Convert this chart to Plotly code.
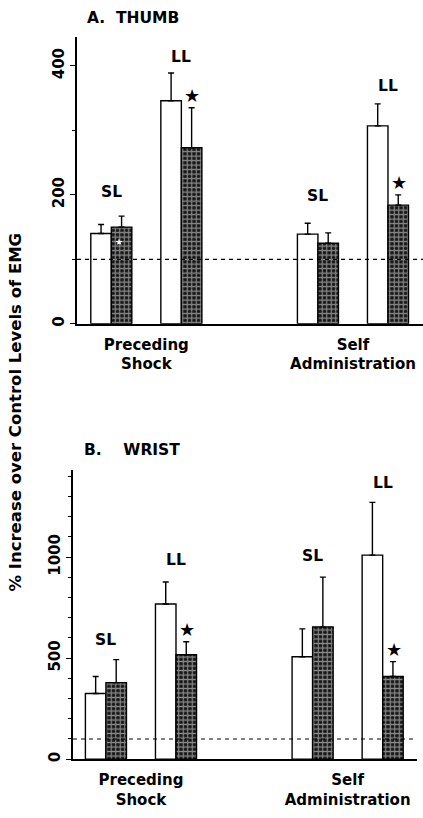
import plotly.graph_objects as go

# ---------------- data ----------------
conditions = ["Preceding<br>Shock", "Self<br>Administration"]
latency = ["SL", "LL", "SL", "LL"]           # groups (condition x latency)
group_pos = [0, 1, 2.95, 3.95]                # group positions on the x axis

thumb_open = [140, 346, 139, 307]
thumb_open_err = [14, 43, 17, 34]
thumb_hatch = [150, 273, 125, 184]
thumb_hatch_err = [17, 62, 16, 16]

wrist_open = [325, 768, 507, 1010]
wrist_open_err = [84, 109, 138, 261]
wrist_hatch = [379, 517, 655, 409]
wrist_hatch_err = [114, 64, 246, 74]

control_level = 100

thumb_ticks = [0, 200, 400]
wrist_ticks = [0, 500, 1000]

# significance stars on hatched bars (index of group)
thumb_stars = [1, 3]
wrist_stars = [1, 3]

FONT = "DejaVu Sans"
W, H = 423, 818


def px_x(px):
    return px / W


def px_y(px):
    return 1 - px / H


fig = go.Figure()

panels = [
    dict(xa="x", ya="y", o=thumb_open, oe=thumb_open_err, h=thumb_hatch, he=thumb_hatch_err,
         stars=thumb_stars, label_shift=[24, 16, 27, 18]),
    dict(xa="x2", ya="y2", o=wrist_open, oe=wrist_open_err, h=wrist_hatch, he=wrist_hatch_err,
         stars=wrist_stars, label_shift=[20, 22, 21, 19]),
]

for p in panels:
    fig.add_trace(go.Bar(
        x=group_pos, y=p["o"], xaxis=p["xa"], yaxis=p["ya"],
        marker=dict(color="white", line=dict(color="black", width=1.4)),
        error_y=dict(type="data", array=p["oe"], arrayminus=[0] * 4, symmetric=False,
                     color="black", thickness=1.4, width=3),
        offsetgroup="a", showlegend=False,
    ))
    fig.add_trace(go.Bar(
        x=group_pos, y=p["h"], xaxis=p["xa"], yaxis=p["ya"],
        marker=dict(color="#151515", line=dict(color="black", width=1.4),
                    pattern=dict(shape="+", fgcolor="white", bgcolor="#151515",
                                 size=4.5, solidity=0.45, fillmode="overlay")),
        error_y=dict(type="data", array=p["he"], arrayminus=[0] * 4, symmetric=False,
                     color="black", thickness=1.4, width=3),
        offsetgroup="b", showlegend=False,
    ))
    # dashed control line
    fig.add_shape(type="line", xref=p["xa"] + " domain", yref=p["ya"],
                  x0=0, x1=1, y0=control_level, y1=control_level,
                  line=dict(color="black", width=1.2, dash="4px,4px"), layer="above")
    # SL / LL labels
    for i, lab in enumerate(latency):
        top = max(p["o"][i] + p["oe"][i], p["h"][i] + p["he"][i])
        fig.add_annotation(x=group_pos[i], y=top, xref=p["xa"], yref=p["ya"],
                           text=lab, showarrow=False, yanchor="middle",
                           yshift=p["label_shift"][i],
                           font=dict(family=FONT, size=15.5, color="black", weight="bold"))
    # stars
    for i in p["stars"]:
        fig.add_annotation(x=group_pos[i], y=p["h"][i] + p["he"][i], xref=p["xa"], yref=p["ya"],
                           text="\u2605", showarrow=False, yanchor="bottom", xshift=11, yshift=0,
                           font=dict(family=FONT, size=18, color="black"))

# small white star inside thumb SL hatched bar
fig.add_annotation(x=group_pos[0], y=thumb_hatch[0], xref="x", yref="y",
                   text="\u2605", showarrow=False, yanchor="top", xshift=8, yshift=-8,
                   font=dict(family=FONT, size=9, color="white"))

cond_centers = [(group_pos[0] + group_pos[1]) / 2, (group_pos[2] + group_pos[3]) / 2]

axis_font = dict(family=FONT, size=15, color="black", weight="bold")

common_x = dict(showline=True, linecolor="black", linewidth=1.6, showgrid=False, zeroline=False,
                tickmode="array", tickvals=cond_centers, ticktext=conditions,
                ticks="", tickfont=axis_font, ticklabelstandoff=6)
common_y = dict(showline=True, linecolor="black", linewidth=1.6, showgrid=False, zeroline=False,
                ticks="outside", ticklen=5, tickwidth=1.4, tickcolor="black",
                tickangle=-90, tickfont=axis_font,
                minor=dict(ticks="outside", ticklen=3, tickwidth=1, tickcolor="black", dtick=100))

fig.update_layout(
    width=W, height=H, margin=dict(l=0, r=0, t=0, b=0),
    paper_bgcolor="white", plot_bgcolor="white",
    barmode="group", bargap=0.414, bargroupgap=0,
    xaxis=dict(domain=[px_x(77), 1.0], range=[-0.49, 4.45], anchor="y", **common_x),
    yaxis=dict(domain=[px_y(325), px_y(37)], range=[0, 445], anchor="x",
               tickvals=thumb_ticks, **common_y),
    xaxis2=dict(domain=[px_x(73), px_x(417)], range=[-0.47, 4.44], anchor="y2", **common_x),
    yaxis2=dict(domain=[px_y(762), px_y(472)], range=[0, 1430], anchor="x2",
                tickvals=wrist_ticks, **common_y),
)

# panel titles
fig.add_annotation(x=px_x(85), y=px_y(18), xref="paper", yref="paper", text="A.\u00a0\u00a0THUMB",
                   showarrow=False, xanchor="left", yanchor="middle",
                   font=dict(family=FONT, size=15.5, color="black", weight="bold"))
fig.add_annotation(x=px_x(82), y=px_y(452), xref="paper", yref="paper", text="B.\u00a0\u00a0\u00a0\u00a0WRIST",
                   showarrow=False, xanchor="left", yanchor="middle",
                   font=dict(family=FONT, size=15.5, color="black", weight="bold"))

# shared y-axis title
fig.add_annotation(x=px_x(15), y=px_y(414), xref="paper", yref="paper",
                   text="% Increase over Control Levels of EMG", textangle=-90,
                   showarrow=False, xanchor="center", yanchor="middle",
                   font=dict(family=FONT, size=16.5, color="black", weight="bold"))

fig.write_html("out.html")
